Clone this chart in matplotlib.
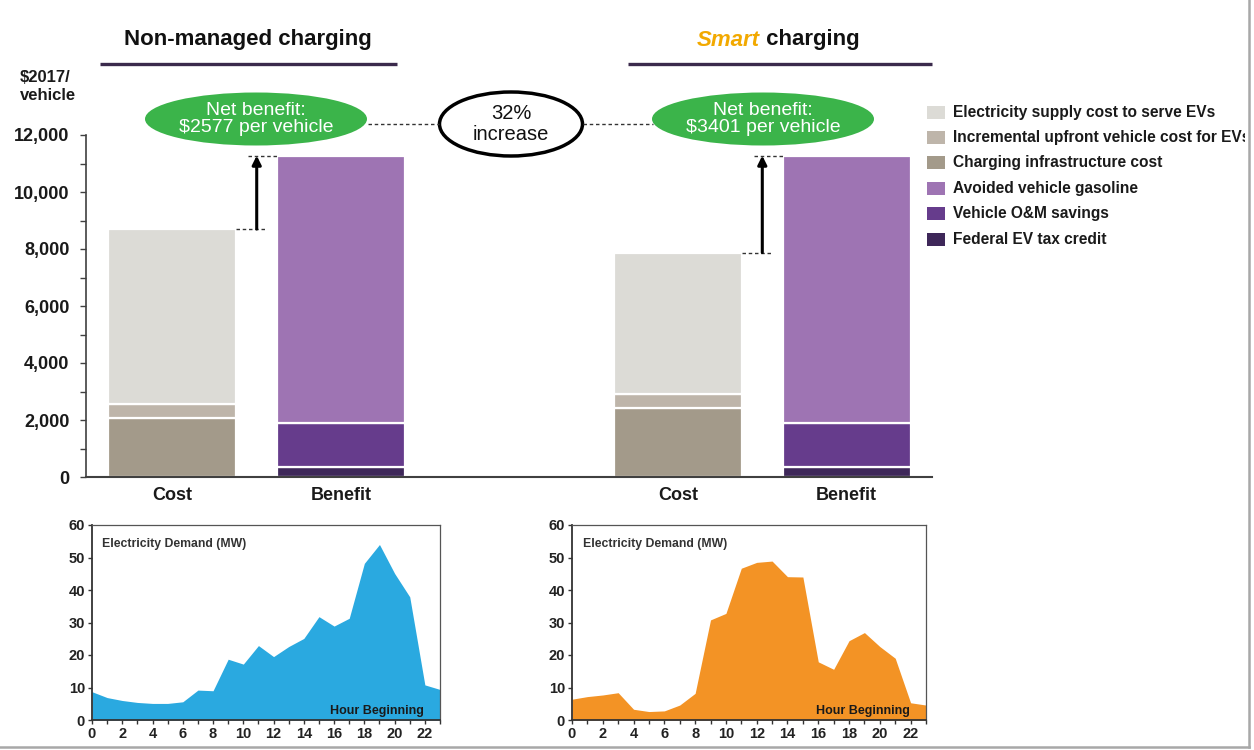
import matplotlib
matplotlib.use("Agg")
import matplotlib.pyplot as plt
from matplotlib.patches import Ellipse, Rectangle
import numpy as np

plt.rcParams['font.family'] = ['Liberation Sans', 'DejaVu Sans']

# ---- data ($2017 per vehicle) ----
scenarios = ["Non-managed charging", "Smart charging"]
bar_labels = ["Cost", "Benefit"]
charging_infra = [2060, 2420]
upfront_cost = [500, 500]
electricity_supply = [6140, 4956]
tax_credit = [350, 350]
om_savings = [1550, 1550]
avoided_gasoline = [9377, 9377]

cost_names = ["Electricity supply cost to serve EVs",
              "Incremental upfront vehicle cost for EVs",
              "Charging infrastructure cost"]
benefit_names = ["Avoided vehicle gasoline",
                 "Vehicle O&M savings",
                 "Federal EV tax credit"]
cost_colors = ["#dcdbd6", "#beb5aa", "#a39a8a"]
benefit_colors = ["#9e74b3", "#663c8c", "#3e2759"]

# hourly EV charging load (MW), hour beginning 0..23
hours = list(range(24))
demand_unmanaged = [8.7, 6.9, 6.0, 5.4, 5.1, 5.1, 5.6, 9.2, 9.0, 18.7, 17.2, 22.9,
                    19.5, 22.6, 25.1, 31.8, 28.9, 31.3, 48.2, 54.0, 45.1, 37.9, 10.8, 9.4]
demand_smart = [6.4, 7.2, 7.7, 8.4, 3.3, 2.6, 2.8, 4.6, 8.2, 30.8, 32.8, 46.7,
                48.5, 48.9, 44.1, 44.0, 17.9, 15.6, 24.4, 26.9, 22.6, 19.0, 5.3, 4.6]

W, H = 1254, 750
fig = plt.figure(figsize=(W / 100, H / 100), dpi=100)
fig.patch.set_facecolor("white")

# overlay in pixel coordinates for titles, callouts and legend
ov = fig.add_axes([0, 0, 1, 1], zorder=0)
ov.set_xlim(0, W)
ov.set_ylim(H, 0)
ov.axis("off")

# ---- main stacked bars ----
ax = fig.add_axes([86 / W, (H - 477) / H, 846 / W, 342 / H], zorder=1)
ax.patch.set_alpha(0)
pos_cost = [0, 3]
pos_ben = [1, 4]
bw = 0.76
edge = dict(edgecolor="white", linewidth=1.6)
cost_stack = [charging_infra, upfront_cost, electricity_supply]
cost_stack_colors = [cost_colors[2], cost_colors[1], cost_colors[0]]
ben_stack = [tax_credit, om_savings, avoided_gasoline]
ben_stack_colors = [benefit_colors[2], benefit_colors[1], benefit_colors[0]]

bottom = np.zeros(2)
for vals, col in zip(cost_stack, cost_stack_colors):
    ax.bar(pos_cost, vals, bw, bottom=bottom, color=col, **edge)
    bottom += np.array(vals)
cost_total = bottom.copy()

bottom = np.zeros(2)
for vals, col in zip(ben_stack, ben_stack_colors):
    ax.bar(pos_ben, vals, bw, bottom=bottom, color=col, **edge)
    bottom += np.array(vals)
ben_total = bottom.copy()

ax.set_xlim(-0.513, 4.507)
ax.set_ylim(0, 12000)
ax.set_yticks(np.arange(0, 12001, 2000))
ax.set_yticks(np.arange(0, 12001, 1000), minor=True)
ax.set_yticklabels([f"{v:,}" for v in range(0, 12001, 2000)],
                   fontsize=13, fontweight="bold", color="#1a1a1a")
ax.tick_params(axis="y", which="both", direction="out", length=4,
               width=1, color="#404040", pad=8)
ax.set_xticks(pos_cost + pos_ben)
ax.set_xticklabels([bar_labels[0]] * 2 + [bar_labels[1]] * 2,
                   fontsize=13, fontweight="bold", color="#1a1a1a")
ax.tick_params(axis="x", length=0, pad=7)
for s in ["top", "right"]:
    ax.spines[s].set_visible(False)
ax.spines["left"].set_color("#404040")
ax.spines["bottom"].set_color("#404040")
ax.spines["left"].set_linewidth(1.2)
ax.spines["bottom"].set_linewidth(1.5)

# net-benefit arrows with dashed leaders
for i in range(2):
    xa = pos_cost[i] + 0.5
    ax.annotate("", xy=(xa, ben_total[i]), xytext=(xa, cost_total[i]),
                arrowprops=dict(arrowstyle="-|>", color="black", lw=2.2,
                                mutation_scale=13, shrinkA=0, shrinkB=0))
    ax.plot([pos_cost[i] + bw / 2, xa + 0.05], [cost_total[i]] * 2,
            ls=(0, (2.5, 2)), color="#333333", lw=1)
    ax.plot([xa - 0.05, pos_ben[i] - bw / 2], [ben_total[i]] * 2,
            ls=(0, (2.5, 2)), color="#333333", lw=1)

net_benefit = ben_total - cost_total
increase = (net_benefit[1] - net_benefit[0]) / net_benefit[0] * 100

# ---- titles ----
ov.text(248, 40, scenarios[0], fontsize=16, fontweight="bold",
        ha="center", va="center", color="#111111")
t_smart = ov.text(697, 40, "Smart", fontsize=16, fontweight="bold",
                  fontstyle="italic", ha="left", va="center", color="#f2a900")
ov.annotate(" charging", xy=(1, 0), xycoords=t_smart, va="bottom", ha="left",
            fontsize=16, fontweight="bold", color="#111111")
ov.plot([100, 397], [64, 64], color="#3b2a4c", lw=2.4, solid_capstyle="butt")
ov.plot([628, 932], [64, 64], color="#3b2a4c", lw=2.4, solid_capstyle="butt")

ov.text(20, 86, "$2017/\nvehicle", fontsize=12, fontweight="bold",
        ha="left", va="center", linespacing=1.25, color="#1a1a1a")

# ---- callouts ----
for cx, nb in zip([256, 763], net_benefit):
    ov.add_patch(Ellipse((cx, 119), 222, 53, facecolor="#3bb44a",
                         edgecolor="none"))
    ov.text(cx, 119, f"Net benefit:\n${nb:.0f} per vehicle", fontsize=14,
            color="white", ha="center", va="center", linespacing=1.0)
ov.add_patch(Ellipse((511, 124), 143, 64, facecolor="white",
                     edgecolor="black", lw=2.5))
ov.text(511, 124, f"{increase:.0f}%\nincrease", fontsize=14.5, ha="center",
        va="center", linespacing=1.1, color="#111111")
ov.plot([368, 439], [124, 124], ls=(0, (2.5, 2)), color="#333333", lw=1)
ov.plot([583, 653], [124, 124], ls=(0, (2.5, 2)), color="#333333", lw=1)

# ---- legend ----
leg_names = cost_names + benefit_names
leg_colors = cost_colors + benefit_colors
for k, (name, col) in enumerate(zip(leg_names, leg_colors)):
    yc = 112 + k * 25.4
    ov.add_patch(Rectangle((927, yc - 6.5), 18, 13, facecolor=col,
                           edgecolor="none"))
    ov.text(953, yc, name, fontsize=11.2, fontweight="bold", ha="left",
            va="center", color="#1a1a1a")

# page frame on right and bottom
ov.add_patch(Rectangle((1245, 0), 20, H, facecolor="white", edgecolor="none",
                       zorder=5))
ov.plot([1248.5, 1248.5], [0, 747], color="#a8a8a8", lw=1.8, zorder=6)
ov.plot([0, 1248.5], [747, 747], color="#a8a8a8", lw=1.8, zorder=6)

# ---- hourly demand panels ----
def demand_panel(rect, values, color):
    a = fig.add_axes(rect, zorder=1)
    a.fill_between(hours, values, color=color, lw=0)
    a.set_xlim(0, 23)
    a.set_ylim(0, 60)
    a.set_yticks(range(0, 61, 10))
    a.set_xticks(hours)
    a.set_xticklabels([str(h) if h % 2 == 0 else "" for h in hours])
    a.tick_params(labelsize=10.5, length=3, width=1, color="#333333",
                  direction="out", pad=2)
    for lab in a.get_xticklabels() + a.get_yticklabels():
        lab.set_fontweight("bold")
        lab.set_color("#222222")
    for s in ["left", "bottom"]:
        a.spines[s].set_color("#333333")
        a.spines[s].set_linewidth(1.3)
    for s in ["top", "right"]:
        a.spines[s].set_color("#555555")
        a.spines[s].set_linewidth(0.9)
    a.text(0.03, 0.90, "Electricity Demand (MW)", transform=a.transAxes,
           fontsize=8.8, fontweight="bold", color="#333333", ha="left",
           va="center")
    a.text(0.955, 0.045, "Hour Beginning", transform=a.transAxes,
           fontsize=9, fontweight="bold", color="#1a1a1a", ha="right",
           va="center")
    return a

demand_panel([92 / W, 30 / H, 348 / W, 195 / H], demand_unmanaged, "#2aa9e0")
demand_panel([572 / W, 30 / H, 354 / W, 195 / H], demand_smart, "#f39325")

fig.savefig("out.png", dpi=100, facecolor="white")
